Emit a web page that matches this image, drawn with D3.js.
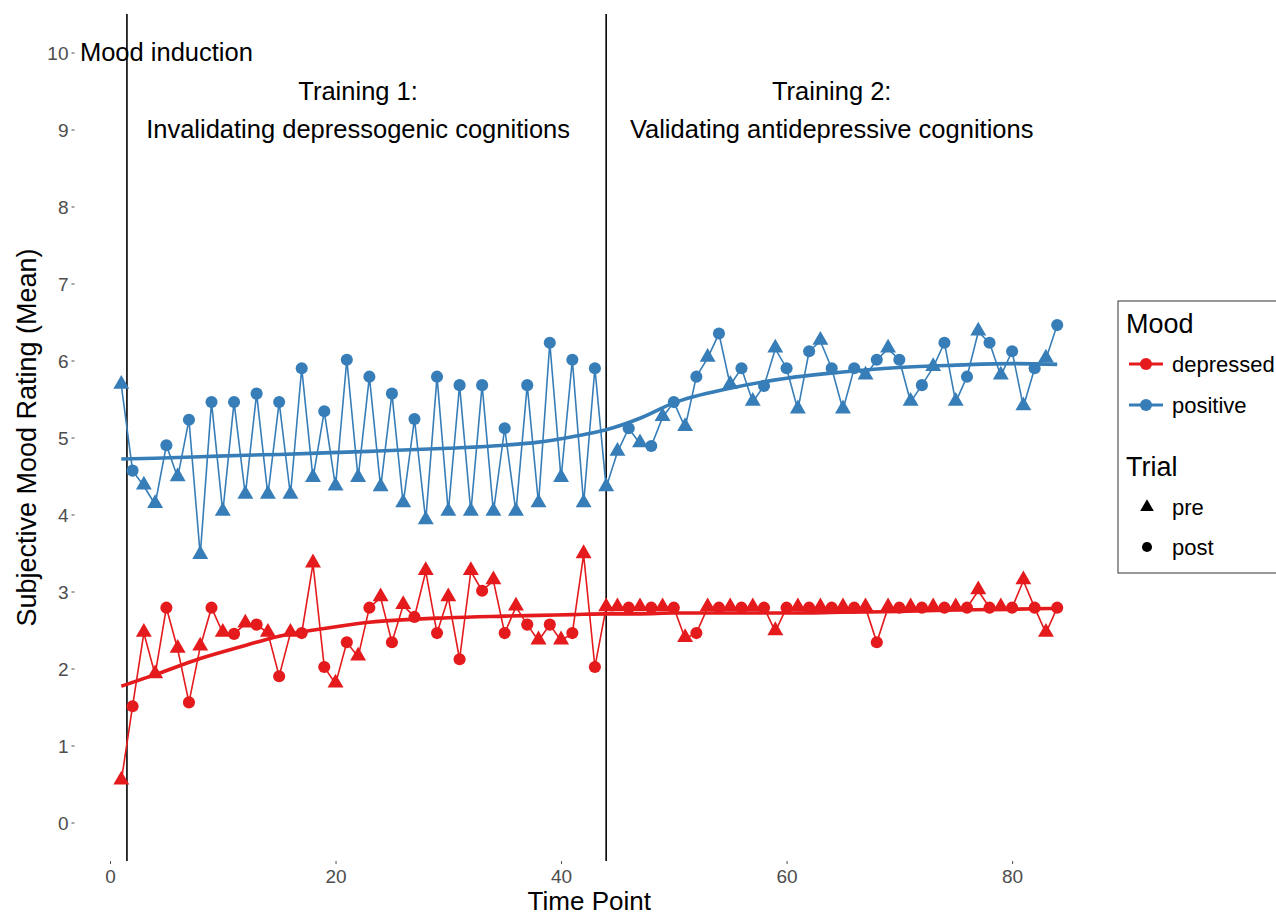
<!DOCTYPE html>
<html lang="en">
<head>
  <meta charset="UTF-8">
  <title>Mood ratings</title>
  <style>
    body { margin: 0; background: #fff; }
    svg { font-family: "Liberation Sans", Arial, sans-serif; }
    .tick-label { fill: #4d4d4d; font-size: 19px; }
    .ann { fill: #000; font-size: 25.5px; }
    .axis-title { fill: #000; font-size: 27px; }
    .leg-label { fill: #000; font-size: 22px; }
  </style>
</head>
<body>
  <div id="chart"></div>
  <script src="https://cdn.jsdelivr.net/npm/d3@7"></script>
  <script>
    const timePoints = d3.range(1, 85);
    // T = pre (triangle), C = post (circle), one per time point
    const trialCodes = 'TCTTCTCTCTCTCTCTCTCTCTCTCTCTCTCTCTCTCTCTCTCTTCTCTCTCTCTCTCTCTCTCTCTCTCTCTCTCTCTCTCTC';
    const trialType = trialCodes.split('').map(c => (c === 'T' ? 'pre' : 'post'));

    const positiveMood = [
      5.68, 4.57, 4.37, 4.13, 4.90, 4.48, 5.23, 3.47, 5.46, 4.03,
      5.46, 4.25, 5.57, 4.25, 5.46, 4.25, 5.90, 4.47, 5.34, 4.36,
      6.01, 4.47, 5.79, 4.35, 5.57, 4.14, 5.24, 3.92, 5.79, 4.03,
      5.68, 4.03, 5.68, 4.03, 5.12, 4.03, 5.68, 4.14, 6.23, 4.47,
      6.01, 4.14, 5.90, 4.35, 4.81, 5.12, 4.92, 4.89, 5.26, 5.46,
      5.13, 5.79, 6.03, 6.35, 5.68, 5.90, 5.46, 5.67, 6.15, 5.90,
      5.36, 6.12, 6.25, 5.90, 5.36, 5.90, 5.80, 6.01, 6.15, 6.01,
      5.46, 5.68, 5.91, 6.23, 5.46, 5.79, 6.37, 6.23, 5.80, 6.12,
      5.40, 5.90, 6.02, 6.46
    ];

    const depressedMood = [
      0.54, 1.51, 2.46, 1.92, 2.79, 2.25, 1.56, 2.28, 2.79, 2.46,
      2.45, 2.58, 2.57, 2.46, 1.90, 2.46, 2.46, 3.36, 2.02, 1.80,
      2.34, 2.15, 2.79, 2.92, 2.34, 2.82, 2.67, 3.26, 2.46, 2.92,
      2.12, 3.26, 3.01, 3.14, 2.46, 2.80, 2.57, 2.36, 2.57, 2.36,
      2.46, 3.48, 2.02, 2.79, 2.79, 2.79, 2.79, 2.79, 2.79, 2.79,
      2.39, 2.46, 2.79, 2.79, 2.79, 2.79, 2.79, 2.79, 2.48, 2.79,
      2.79, 2.79, 2.79, 2.79, 2.79, 2.79, 2.79, 2.34, 2.79, 2.79,
      2.79, 2.79, 2.79, 2.79, 2.79, 2.79, 3.01, 2.79, 2.79, 2.79,
      3.14, 2.79, 2.46, 2.79
    ];

    // smoothed trend
    const smoothX = [1, 4, 8, 12, 15, 19, 23, 30, 35, 38, 41, 44, 47, 50, 55, 60, 65, 70, 75, 80, 84];
    const positiveSmooth = [4.72, 4.73, 4.75, 4.77, 4.78, 4.80, 4.82, 4.86, 4.90, 4.94, 5.01, 5.10, 5.25, 5.45, 5.64, 5.77, 5.85, 5.91, 5.94, 5.96, 5.95];
    const depressedSmooth = [1.77, 1.92, 2.13, 2.30, 2.42, 2.52, 2.60, 2.66, 2.68, 2.69, 2.70, 2.71, 2.71, 2.72, 2.72, 2.72, 2.73, 2.74, 2.76, 2.77, 2.78];

    const phaseBreaks = [1.5, 44];
    const xTicks = [0, 20, 40, 60, 80];
    const yTicks = d3.range(0, 11);
    const moods = ['depressed', 'positive'];
    const moodColor = { depressed: '#E41A1C', positive: '#377EB8' };

    const width = 1276, height = 916;
    const panel = { left: 74.5, right: 1104, top: 14, bottom: 861 };

    const svg = d3.select('#chart').append('svg')
      .attr('width', width)
      .attr('height', height);

    const x = d3.scaleLinear().domain([-3.15, 88.15]).range([panel.left, panel.right]);
    const y = d3.scaleLinear().domain([-0.5, 10.5]).range([panel.bottom, panel.top]);

    // axes (ggplot-like: no axis lines, small grey ticks)
    const yAxis = svg.append('g').attr('transform', `translate(${panel.left},0)`)
      .call(d3.axisLeft(y).tickValues(yTicks).tickSize(3).tickPadding(3));
    const xAxis = svg.append('g').attr('transform', `translate(0,${panel.bottom})`)
      .call(d3.axisBottom(x).tickValues(xTicks).tickSize(3).tickPadding(3));
    [xAxis, yAxis].forEach(a => {
      a.attr('font-size', null).attr('font-family', null);
      a.select('.domain').remove();
      a.selectAll('.tick line').attr('stroke', '#4d4d4d').attr('stroke-width', 1);
      a.selectAll('.tick text').attr('class', 'tick-label').attr('fill', null);
    });
    yAxis.selectAll('.tick text').attr('dy', '0.35em');
    xAxis.selectAll('.tick text').attr('dy', '0.85em');

    // axis titles
    svg.append('text').attr('class', 'axis-title')
      .attr('x', (panel.left + panel.right) / 2).attr('y', 910)
      .style('font-size', '26px')
      .attr('text-anchor', 'middle').text('Time Point');
    svg.append('text').attr('class', 'axis-title')
      .attr('transform', `translate(36,${(panel.top + panel.bottom) / 2}) rotate(-90)`)
      .attr('text-anchor', 'middle').text('Subjective Mood Rating (Mean)');

    // phase lines
    svg.append('g').selectAll('line').data(phaseBreaks).enter().append('line')
      .attr('x1', d => x(d)).attr('x2', d => x(d))
      .attr('y1', panel.top).attr('y2', panel.bottom)
      .attr('stroke', '#000').attr('stroke-width', 1.6);

    // annotations
    svg.append('text').attr('class', 'ann').attr('x', x(5)).attr('y', y(10))
      .attr('dy', '0.35em').attr('text-anchor', 'middle').text('Mood induction');
    const notes = [
      { t: 22, lines: ['Training 1:', 'Invalidating depressogenic cognitions'] },
      { t: 64, lines: ['Training 2:', 'Validating antidepressive cognitions'] }
    ];
    notes.forEach(n => {
      n.lines.forEach((s, i) => {
        svg.append('text').attr('class', 'ann')
          .attr('x', x(n.t)).attr('y', y(9.5 - i * 0.5))
          .attr('dy', '0.35em').attr('text-anchor', 'middle').text(s);
      });
    });

    const series = {
      depressed: { values: depressedMood, smooth: depressedSmooth },
      positive: { values: positiveMood, smooth: positiveSmooth }
    };

    const triangle = d3.symbol().type(d3.symbolTriangle).size(110);
    const circle = d3.symbol().type(d3.symbolCircle).size(115);

    const plot = svg.append('g');
    moods.forEach(m => {
      const col = moodColor[m];
      const pts = timePoints.map((t, i) => ({ t: t, v: series[m].values[i], trial: trialType[i] }));

      plot.append('path').datum(pts)
        .attr('fill', 'none').attr('stroke', col).attr('stroke-width', 1.6)
        .attr('d', d3.line().x(d => x(d.t)).y(d => y(d.v)));

      const sm = smoothX.map((t, i) => [t, series[m].smooth[i]]);
      plot.append('path').datum(sm)
        .attr('fill', 'none').attr('stroke', col).attr('stroke-width', 3.6)
        .attr('d', d3.line().x(d => x(d[0])).y(d => y(d[1])).curve(d3.curveMonotoneX));

      plot.append('g').selectAll('path').data(pts).enter().append('path')
        .attr('transform', d => `translate(${x(d.t)},${y(d.v) + (d.trial === 'pre' ? -1 : 0)})`)
        .attr('d', d => (d.trial === 'pre' ? triangle() : circle()))
        .attr('fill', col);
    });

    // legend
    const lg = svg.append('g').attr('transform', 'translate(1118,301)');
    lg.append('rect').attr('x', 0).attr('y', 0).attr('width', 200).attr('height', 272)
      .attr('fill', '#fff').attr('stroke', '#333').attr('stroke-width', 1);
    lg.append('text').attr('class', 'axis-title').attr('x', 8).attr('y', 32).text('Mood');
    moods.forEach((m, i) => {
      const cy = 63 + i * 41;
      lg.append('line').attr('x1', 11).attr('x2', 45).attr('y1', cy).attr('y2', cy)
        .attr('stroke', moodColor[m]).attr('stroke-width', 3);
      lg.append('path').attr('transform', `translate(28,${cy})`).attr('d', circle())
        .attr('fill', moodColor[m]);
      lg.append('text').attr('class', 'leg-label').attr('x', 54).attr('y', cy).attr('dy', '0.35em').text(m);
    });
    lg.append('text').attr('class', 'axis-title').attr('x', 8).attr('y', 175).text('Trial');
    const trials = ['pre', 'post'];
    trials.forEach((tr, i) => {
      const cy = 206 + i * 40;
      lg.append('path').attr('transform', `translate(29,${cy})`)
        .attr('d', d3.symbol().type(tr === 'pre' ? d3.symbolTriangle : d3.symbolCircle).size(80)())
        .attr('fill', '#000');
      lg.append('text').attr('class', 'leg-label').attr('x', 54).attr('y', cy).attr('dy', '0.35em').text(tr);
    });
  </script>
</body>
</html>
